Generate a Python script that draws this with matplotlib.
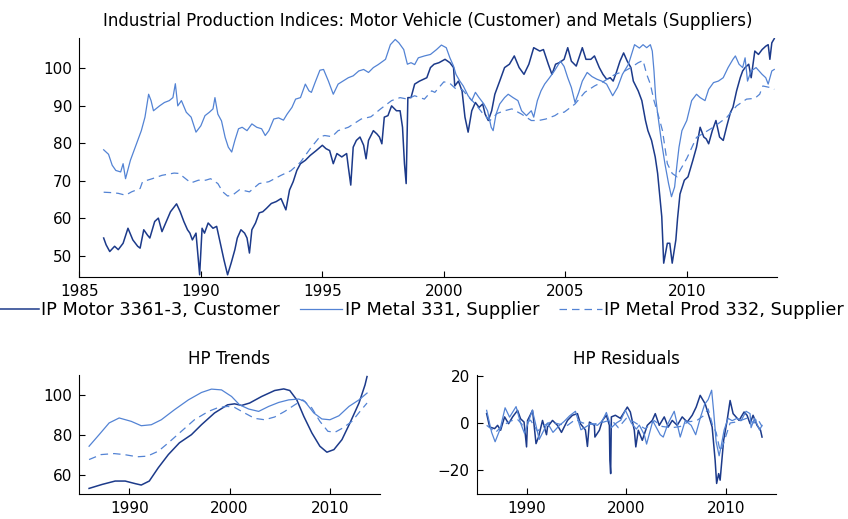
#!/usr/bin/env python3
import matplotlib

matplotlib.use("Agg")
import matplotlib.pyplot as plt
from matplotlib.lines import Line2D

plt.rcParams["font.family"] = ["DejaVu Sans"]

# --- top panel: industrial production indices ---
motor_t = [1986.0, 1986.1, 1986.25, 1986.45, 1986.6, 1986.8, 1987.0, 1987.2, 1987.4, 1987.5,
           1987.65, 1987.8, 1987.9, 1988.1, 1988.25, 1988.4, 1988.55, 1988.75, 1989.0, 1989.15,
           1989.3, 1989.45, 1989.55, 1989.65, 1989.8, 1989.87, 1989.95, 1990.05, 1990.15, 1990.3,
           1990.5, 1990.65, 1990.8, 1990.95, 1991.1, 1991.25, 1991.4, 1991.5, 1991.65, 1991.8,
           1991.9, 1992.0, 1992.1, 1992.25, 1992.4, 1992.55, 1992.7, 1992.9, 1993.1, 1993.3,
           1993.5, 1993.65, 1993.8, 1993.95, 1994.1, 1994.3, 1994.5, 1994.75, 1995.0, 1995.15,
           1995.3, 1995.45, 1995.6, 1995.8, 1996.0, 1996.07, 1996.17, 1996.27, 1996.4, 1996.55,
           1996.7, 1996.8, 1996.9, 1997.1, 1997.25, 1997.35, 1997.45, 1997.55, 1997.7, 1997.85,
           1998.05, 1998.2, 1998.3, 1998.38, 1998.45, 1998.52, 1998.65, 1998.8, 1999.0, 1999.3,
           1999.45, 1999.6, 1999.8, 2000.05, 2000.25, 2000.4, 2000.45, 2000.6, 2000.75, 2000.87,
           2001.0, 2001.15, 2001.3, 2001.45, 2001.6, 2001.7, 2001.83, 2001.97, 2002.1, 2002.3,
           2002.5, 2002.7, 2002.9, 2003.1, 2003.3, 2003.5, 2003.7, 2003.95, 2004.1, 2004.3,
           2004.45, 2004.6, 2004.75, 2004.95, 2005.1, 2005.25, 2005.45, 2005.7, 2005.85, 2006.05,
           2006.2, 2006.4, 2006.55, 2006.7, 2006.85, 2006.97, 2007.1, 2007.25, 2007.4, 2007.55,
           2007.7, 2007.8, 2008.0, 2008.15, 2008.3, 2008.4, 2008.55, 2008.7, 2008.8, 2008.97,
           2009.05, 2009.2, 2009.3, 2009.4, 2009.55, 2009.62, 2009.72, 2009.9, 2010.05, 2010.25,
           2010.4, 2010.55, 2010.7, 2010.8, 2010.9, 2011.05, 2011.2, 2011.35, 2011.5, 2011.65,
           2011.8, 2011.9, 2012.05, 2012.2, 2012.3, 2012.4, 2012.55, 2012.65, 2012.8, 2012.95,
           2013.1, 2013.25, 2013.35, 2013.42, 2013.5, 2013.6]
motor_v = [54.8, 53.0, 51.2, 52.6, 51.7, 53.4, 57.4, 54.3, 52.6, 52.1,
           57.0, 55.6, 54.8, 59.2, 60.1, 56.5, 58.8, 61.8, 63.9, 61.8,
           59.2, 57.0, 56.1, 54.3, 56.1, 50.8, 45.0, 57.4, 56.1, 58.8,
           57.4, 57.9, 53.4, 49.0, 45.0, 48.2, 51.7, 54.8, 57.0, 56.1,
           54.8, 50.8, 57.0, 58.8, 61.5, 61.8, 62.7, 64.0, 64.5, 65.3,
           62.3, 67.6, 69.8, 72.8, 74.6, 75.5, 76.8, 78.1, 79.5, 78.6,
           78.1, 74.6, 77.3, 76.4, 77.3, 73.7, 68.9, 79.0, 80.8, 81.7,
           79.5, 75.9, 80.8, 83.4, 82.5, 81.7, 79.9, 87.0, 87.4, 90.0,
           88.7, 88.7, 84.3, 74.6, 69.3, 92.2, 92.2, 95.8, 96.6, 97.5,
           100.2, 101.1, 101.5, 102.4, 101.5, 100.2, 95.3, 96.6, 94.0, 87.0,
           83.0, 88.7, 90.9, 89.6, 90.5, 87.8, 86.1, 88.7, 93.1, 96.6,
           100.2, 101.1, 103.3, 100.2, 98.4, 101.1, 105.5, 104.6, 105.0, 101.1,
           98.4, 101.1, 101.5, 102.4, 105.5, 101.9, 100.6, 105.5, 102.4, 102.4,
           103.3, 100.2, 98.4, 97.1, 97.5, 96.6, 98.9, 101.9, 104.1, 101.9,
           100.2, 96.6, 94.0, 91.4, 86.1, 83.4, 80.8, 76.4, 72.0, 60.5,
           48.1, 53.4, 53.4, 48.1, 54.3, 60.0, 66.5, 70.2, 71.1, 75.5,
           79.0, 84.3, 81.7, 81.2, 79.9, 83.4, 86.1, 81.7, 80.8, 84.7,
           88.3, 89.6, 94.0, 97.5, 99.3, 100.2, 101.1, 97.5, 104.6, 103.7,
           105.0, 105.9, 106.3, 102.4, 106.8, 107.9]

metal_t = [1986.0, 1986.2, 1986.35, 1986.5, 1986.7, 1986.8, 1986.9, 1987.1, 1987.35, 1987.55,
           1987.7, 1987.85, 1987.95, 1988.05, 1988.3, 1988.5, 1988.7, 1988.85, 1988.95, 1989.05,
           1989.2, 1989.4, 1989.6, 1989.8, 1990.0, 1990.17, 1990.35, 1990.5, 1990.58, 1990.7,
           1990.85, 1991.0, 1991.13, 1991.27, 1991.4, 1991.55, 1991.7, 1991.9, 1992.1, 1992.3,
           1992.5, 1992.65, 1992.8, 1993.0, 1993.2, 1993.4, 1993.55, 1993.75, 1993.9, 1994.1,
           1994.3, 1994.45, 1994.55, 1994.7, 1994.9, 1995.05, 1995.25, 1995.45, 1995.65, 1995.85,
           1996.07, 1996.27, 1996.5, 1996.7, 1996.9, 1997.1, 1997.3, 1997.6, 1997.8, 1998.0,
           1998.15, 1998.35, 1998.5, 1998.65, 1998.8, 1998.95, 1999.2, 1999.45, 1999.7, 1999.9,
           2000.1, 2000.25, 2000.4, 2000.5, 2000.66, 2000.8, 2001.0, 2001.15, 2001.3, 2001.45,
           2001.65, 2001.8, 2001.95, 2002.03, 2002.15, 2002.3, 2002.5, 2002.65, 2002.85, 2003.05,
           2003.2, 2003.4, 2003.6, 2003.7, 2003.85, 2004.0, 2004.15, 2004.35, 2004.55, 2004.8,
           2004.95, 2005.1, 2005.25, 2005.4, 2005.55, 2005.7, 2005.9, 2006.1, 2006.3, 2006.5,
           2006.7, 2006.95, 2007.15, 2007.35, 2007.6, 2007.85, 2008.05, 2008.2, 2008.35, 2008.5,
           2008.58, 2008.65, 2008.72, 2008.82, 2008.95, 2009.1, 2009.25, 2009.37, 2009.5, 2009.6,
           2009.68, 2009.8, 2010.0, 2010.2, 2010.4, 2010.55, 2010.75, 2010.9, 2011.1, 2011.3,
           2011.5, 2011.7, 2011.9, 2012.0, 2012.15, 2012.3, 2012.4, 2012.5, 2012.65, 2012.85,
           2013.1, 2013.25, 2013.35, 2013.5, 2013.6]
metal_v = [78.3, 77.1, 74.2, 72.8, 72.4, 74.6, 70.6, 75.5, 79.9, 83.4,
           87.0, 93.1, 91.4, 88.7, 90.0, 90.9, 91.4, 92.2, 95.9, 90.0,
           91.4, 88.3, 87.0, 83.0, 84.7, 87.4, 88.3, 89.2, 92.2, 87.8,
           86.0, 81.6, 79.0, 77.7, 80.8, 83.9, 84.3, 83.4, 85.2, 84.3,
           83.9, 82.1, 83.4, 86.5, 86.8, 86.2, 87.8, 89.6, 91.8, 92.2,
           95.8, 94.0, 93.6, 96.2, 99.5, 99.7, 96.6, 93.1, 95.8, 96.6,
           97.5, 98.0, 99.3, 99.7, 98.9, 100.2, 101.0, 102.4, 106.3, 107.7,
           106.8, 105.0, 101.1, 101.5, 101.0, 102.8, 103.3, 103.7, 105.0, 106.2,
           105.5, 102.8, 100.6, 98.4, 96.6, 95.3, 92.7, 91.4, 93.6, 92.2,
           90.5, 88.7, 84.3, 83.4, 87.8, 90.5, 92.2, 93.1, 92.2, 91.4,
           88.7, 87.4, 88.7, 87.0, 91.4, 94.0, 95.8, 97.5, 99.3, 101.9,
           100.5, 97.5, 94.9, 90.9, 93.5, 96.6, 98.9, 97.8, 97.1, 96.6,
           95.8, 92.7, 94.9, 98.4, 101.1, 106.3, 105.4, 106.3, 105.5, 106.3,
           104.6, 99.3, 92.2, 87.0, 80.8, 74.6, 69.3, 65.8, 68.4, 74.6,
           79.0, 83.4, 86.1, 91.4, 93.1, 92.2, 91.4, 94.4, 96.2, 96.6,
           97.5, 100.2, 102.4, 103.3, 101.1, 100.2, 102.8, 96.6, 99.3, 100.2,
           98.4, 97.5, 95.8, 99.3, 99.7]

prod_t = [1986.0, 1986.3, 1986.6, 1986.9, 1987.15, 1987.5, 1987.6, 1988.0, 1988.4, 1988.9,
          1989.1, 1989.45, 1989.6, 1989.9, 1990.2, 1990.4, 1990.7, 1990.9, 1991.1, 1991.3,
          1991.6, 1992.0, 1992.4, 1992.8, 1993.3, 1993.7, 1994.1, 1994.5, 1994.9, 1995.1,
          1995.4, 1995.65, 1996.07, 1996.6, 1997.0, 1997.4, 1997.85, 1998.2, 1998.5, 1998.8,
          1999.2, 1999.5, 1999.63, 2000.0, 2000.25, 2000.5, 2000.75, 2001.0, 2001.3, 2001.6,
          2001.9, 2002.2, 2002.5, 2002.8, 2003.2, 2003.6, 2003.9, 2004.2, 2004.57, 2004.78,
          2004.95, 2005.4, 2005.8, 2006.2, 2006.6, 2007.05, 2007.45, 2007.7, 2008.0, 2008.2,
          2008.35, 2008.5, 2008.65, 2008.85, 2009.0, 2009.2, 2009.4, 2009.6, 2009.72, 2010.0,
          2010.4, 2011.09, 2011.64, 2012.05, 2012.46, 2012.8, 2013.0, 2013.13, 2013.42, 2013.6]
prod_v = [67.0, 66.9, 66.7, 66.2, 67.1, 68.0, 69.8, 70.6, 71.5, 72.1,
          72.0, 70.2, 69.5, 70.2, 70.2, 70.6, 69.3, 67.1, 66.0, 66.2,
          67.7, 67.1, 69.3, 69.8, 71.5, 72.7, 75.0, 78.6, 81.8, 82.1,
          81.8, 83.4, 84.3, 86.5, 87.1, 89.2, 91.4, 92.2, 91.8, 92.7,
          91.8, 94.0, 93.6, 96.4, 96.0, 94.5, 94.4, 92.5, 90.5, 88.0,
          86.1, 88.0, 88.7, 89.2, 87.8, 86.1, 86.1, 86.5, 87.4, 88.3,
          88.3, 90.5, 93.6, 95.3, 96.6, 98.4, 99.3, 100.2, 101.5, 102.1,
          98.4, 95.8, 91.4, 87.0, 83.4, 74.6, 72.0, 71.1, 72.8, 76.0,
          81.6, 84.3, 86.9, 90.0, 91.8, 92.0, 93.1, 95.3, 94.9, 94.4]

# --- bottom left: HP trends ---
motor_trend_t = [1986.0, 1987.3, 1988.6, 1989.6, 1990.6, 1991.2, 1992.0, 1992.9, 1993.9, 1995.0,
                 1996.2, 1997.2, 1998.5, 1999.8, 2000.5, 2001.2, 2002.0, 2003.2, 2004.5, 2005.4,
                 2006.0, 2006.7, 2007.4, 2008.2, 2009.0, 2009.7, 2010.4, 2011.2, 2012.0, 2012.9,
                 2013.5, 2013.7]
motor_trend_v = [53.3, 55.3, 57.0, 57.0, 55.7, 55.0, 57.0, 63.7, 70.3, 76.2,
                 80.3, 85.3, 91.2, 95.3, 95.8, 95.0, 96.2, 99.5, 102.5, 103.3,
                 102.5, 97.8, 89.5, 81.2, 74.5, 71.5, 72.8, 77.8, 86.2, 96.2,
                 105.3, 109.5]
metal_trend_t = [1986.0, 1987.0, 1988.0, 1989.0, 1990.2, 1991.2, 1992.2, 1993.2, 1994.5, 1995.9,
                 1997.2, 1998.2, 1999.2, 2000.2, 2001.0, 2001.9, 2002.9, 2003.9, 2004.9, 2005.9,
                 2006.9, 2007.5, 2008.4, 2009.2, 2010.0, 2010.9, 2011.9, 2012.9, 2013.7]
metal_trend_v = [74.5, 80.3, 86.2, 88.7, 87.0, 84.8, 85.3, 87.8, 92.8, 97.8,
                 101.5, 103.2, 102.8, 99.5, 95.3, 93.2, 92.0, 94.5, 96.5, 97.8,
                 98.2, 97.0, 91.2, 88.2, 87.8, 89.8, 94.5, 97.8, 101.2]
prod_trend_t = [1986.0, 1987.2, 1988.5, 1989.5, 1990.8, 1991.8, 1992.9, 1993.9, 1995.2, 1996.5,
                1997.9, 1998.9, 1999.8, 2000.5, 2001.5, 2002.5, 2003.5, 2004.5, 2005.5, 2006.5,
                2007.3, 2008.2, 2009.0, 2009.8, 2010.5, 2011.3, 2012.2, 2013.0, 2013.7]
prod_trend_v = [67.8, 70.3, 70.8, 70.3, 69.2, 69.5, 72.0, 76.2, 82.0, 87.8,
                92.0, 94.0, 94.5, 94.0, 91.2, 88.5, 87.8, 89.2, 92.0, 95.3,
                97.8, 93.7, 87.0, 82.0, 81.5, 83.7, 87.0, 92.0, 96.2]

# --- bottom right: HP residuals ---
motor_res_t = [1986.0, 1986.3, 1986.8, 1987.1, 1987.4, 1987.8, 1988.2, 1988.6, 1989.1, 1989.4,
               1989.75, 1990.0, 1990.1, 1990.6, 1990.95, 1991.2, 1991.6, 1992.0, 1992.1, 1992.6,
               1993.1, 1993.5, 1994.1, 1994.6, 1995.1, 1995.4, 1995.9, 1996.1, 1996.3, 1996.8,
               1996.85, 1997.3, 1997.6, 1998.0, 1998.3, 1998.35, 1998.43, 1998.5, 1998.9, 1999.4,
               1999.8, 2000.1, 2000.4, 2000.8, 2000.95, 2001.2, 2001.6, 2002.1, 2002.6, 2002.9,
               2003.3, 2003.8, 2004.2, 2004.6, 2005.1, 2005.6, 2006.1, 2006.6, 2007.0, 2007.4,
               2007.9, 2008.3, 2008.6, 2008.9, 2009.05, 2009.25, 2009.4, 2009.75, 2010.1, 2010.4,
               2010.7, 2011.3, 2011.8, 2012.1, 2012.4, 2012.7, 2013.1, 2013.45, 2013.6]
motor_res_v = [4.0, -1.7, -2.4, -1.0, -3.1, 2.6, -0.3, 2.6, 5.4, 1.8,
               0.4, -10.2, 1.1, 5.4, -8.8, -6.0, 1.1, -5.0, -1.7, 1.1,
               -1.0, -4.0, 1.1, 3.3, 4.0, -0.3, -3.0, -10.0, 0.4, -1.0,
               -6.0, -3.1, 1.1, 3.3, -1.0, -15.9, -21.6, 2.6, 3.3, 2.0,
               4.7, 6.8, 4.7, -3.1, -10.2, -3.1, -7.4, -1.0, 1.1, 4.0,
               -1.0, 2.6, -1.7, 1.1, -1.0, 2.6, 0.4, 3.3, 6.8, 11.8,
               8.2, 2.6, -1.7, -15.9, -25.8, -21.6, -24.4, -7.4, 1.1, 9.6,
               4.0, 1.1, 4.7, 3.3, -0.3, 3.3, -1.0, -3.1, -6.0]
metal_res_t = [1986.0, 1986.5, 1986.85, 1987.35, 1987.85, 1988.3, 1988.95, 1989.4, 1989.8, 1990.58,
               1991.27, 1992.1, 1992.65, 1993.3, 1993.75, 1994.3, 1994.9, 1995.45, 1996.0, 1996.5,
               1997.1, 1997.6, 1998.0, 1998.5, 1999.0, 1999.45, 1999.9, 2000.5, 2001.0, 2001.3,
               2001.8, 2002.03, 2002.65, 2003.4, 2003.7, 2004.2, 2004.8, 2005.4, 2005.9, 2006.5,
               2006.95, 2007.4, 2007.85, 2008.2, 2008.55, 2008.75, 2009.0, 2009.3, 2009.5, 2009.8,
               2010.2, 2010.6, 2011.1, 2011.5, 2012.0, 2012.4, 2012.5, 2012.85, 2013.35, 2013.6]
metal_res_v = [5.4, -4.0, -8.0, -2.6, 6.5, 2.5, 7.0, 0.0, -4.5, 5.5,
               -7.0, 0.0, -4.0, -1.0, 0.6, 3.0, 5.0, -2.9, -1.5, -0.2,
               -1.0, 1.0, 4.5, -2.0, 0.0, 1.2, 5.5, 0.0, -2.6, -0.9,
               -5.0, -9.0, 0.9, -5.0, -6.0, 0.0, 5.0, -6.0, 1.0, -1.0,
               -5.0, 2.0, 8.0, 10.0, 14.0, 5.0, -8.0, -14.0, -10.0, -3.0,
               2.0, 1.0, 2.0, 1.0, 5.0, 4.0, -2.0, 2.0, -3.0, -1.0]
prod_res_t = [1986.0, 1986.9, 1987.6, 1988.5, 1989.1, 1989.6, 1990.4, 1991.1, 1991.6, 1992.4,
              1993.3, 1994.1, 1994.9, 1995.65, 1996.6, 1997.4, 1998.2, 1998.8, 1999.2, 2000.0,
              2000.75, 2001.3, 2001.9, 2002.8, 2003.6, 2004.57, 2005.4, 2006.2, 2007.05, 2007.7,
              2008.2, 2008.65, 2009.0, 2009.4, 2009.72, 2010.4, 2011.09, 2012.05, 2012.8, 2013.13,
              2013.6]
prod_res_v = [-1.0, -4.0, -1.0, 1.0, 1.5, -0.8, 1.2, -3.5, -1.5, 0.5,
              -0.5, -1.0, 1.5, 0.0, -0.5, 0.0, 1.0, 0.0, -2.0, 2.0,
              0.5, -1.0, -2.5, 1.0, -1.5, -2.0, -1.5, 0.5, 1.0, 3.0,
              6.0, -1.0, -4.0, -12.0, -9.0, 0.0, 0.5, 2.0, 0.0, 2.0,
              -1.5]

labels = ["IP Motor 3361-3, Customer", "IP Metal 331, Supplier", "IP Metal Prod 332, Supplier"]
DARK = "#1c3a8a"
LIGHT = "#5383d4"
DASH = (0, (6, 4))


def style_axes(ax):
    for side in ("top", "right"):
        ax.spines[side].set_visible(False)
    ax.tick_params(direction="in", length=4, width=0.8, labelsize=11, pad=5)


def main() -> None:
    fig = plt.figure(figsize=(8.48, 5.19), dpi=100)

    ax = fig.add_axes([0.0936, 0.4669, 0.8223, 0.4593])
    ax.plot(motor_t, motor_v, color=DARK, lw=1.1)
    ax.plot(metal_t, metal_v, color=LIGHT, lw=0.9)
    ax.plot(prod_t, prod_v, color=LIGHT, lw=0.9, linestyle=DASH)
    ax.set_xlim(1985, 2013.7)
    ax.set_ylim(44.5, 108)
    ax.set_xticks([1985, 1990, 1995, 2000, 2005, 2010])
    ax.set_yticks([50, 60, 70, 80, 90, 100])
    ax.set_title("Industrial Production Indices: Motor Vehicle (Customer) and Metals (Suppliers)",
                 fontsize=12, pad=9)
    style_axes(ax)

    handles = [Line2D([], [], color=DARK, lw=1.1),
               Line2D([], [], color=LIGHT, lw=0.9),
               Line2D([], [], color=LIGHT, lw=0.9, linestyle=DASH)]
    fig.legend(handles, labels, loc="center", bbox_to_anchor=(0.4953, 0.403), ncol=3,
               frameon=False, fontsize=12.8, handlelength=2.4, handletextpad=0.15,
               columnspacing=1.1, borderpad=0, borderaxespad=0)

    ax2 = fig.add_axes([0.0932, 0.0482, 0.355, 0.2293])
    ax2.plot(motor_trend_t, motor_trend_v, color=DARK, lw=1.1)
    ax2.plot(metal_trend_t, metal_trend_v, color=LIGHT, lw=0.9)
    ax2.plot(prod_trend_t, prod_trend_v, color=LIGHT, lw=0.9, linestyle=DASH)
    ax2.set_xlim(1985, 2015)
    ax2.set_ylim(50.5, 110.3)
    ax2.set_xticks([1990, 2000, 2010])
    ax2.set_yticks([60, 80, 100])
    ax2.set_title("HP Trends", fontsize=12, pad=8)
    style_axes(ax2)

    ax3 = fig.add_axes([0.5621, 0.0482, 0.353, 0.2293])
    ax3.plot(motor_res_t, motor_res_v, color=DARK, lw=1.1)
    ax3.plot(metal_res_t, metal_res_v, color=LIGHT, lw=0.9)
    ax3.plot(prod_res_t, prod_res_v, color=LIGHT, lw=0.9, linestyle=DASH)
    ax3.set_xlim(1985, 2015)
    ax3.set_ylim(-30.3, 20.5)
    ax3.set_xticks([1990, 2000, 2010])
    ax3.set_yticks([-20, 0, 20])
    ax3.set_title("HP Residuals", fontsize=12, pad=8)
    style_axes(ax3)

    fig.savefig("out.png", dpi=100)
    plt.close(fig)


if __name__ == "__main__":
    main()
